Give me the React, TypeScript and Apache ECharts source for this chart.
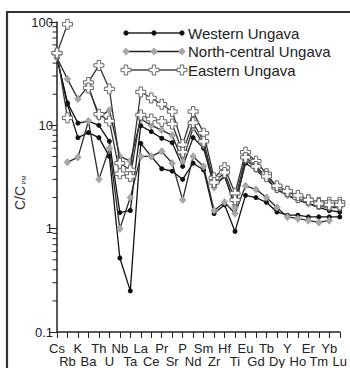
import React, { useEffect, useRef } from 'react';
import * as echarts from 'echarts';

const categories = ['Cs', 'Rb', 'K', 'Ba', 'Th', 'U', 'Nb', 'Ta', 'La', 'Ce', 'Pr', 'Sr', 'P', 'Nd', 'Sm', 'Zr', 'Hf', 'Ti', 'Eu', 'Gd', 'Tb', 'Dy', 'Y', 'Ho', 'Er', 'Tm', 'Yb', 'Lu'];

const westernA = [45, 16.5, 10.5, 11, 10, 7, 1.43, 1.5, 9.9, 8.7, 7.5, 6.8, 4.0, 7.6, 6.0, 2.6, 3.2, 1.7, 4.3, 3.7, 3.0, 2.4, 2.1, 1.9, 1.75, 1.6, 1.5, 1.45];
const westernB = [45, 16, 7.6, 8.5, 7.6, 5, 0.52, 0.25, 6.7, 5.0, 3.8, 3.6, 3.0, 4.3, 3.7, 1.4, 1.7, 0.94, 2.1, 2.0, 1.8, 1.45, 1.35, 1.35, 1.3, 1.3, 1.3, 1.3];
const northA = [45, 28, 18, 24, 12, 14, 5, 4.5, 11.5, 10, 9, 8, 4.5, 9.5, 6.5, 2.5, 3.3, 1.6, 4.6, 3.9, 3.1, 2.4, 2.1, 1.9, 1.75, 1.65, 1.6, 1.6];
const northB = [null, 4.4, 4.9, 11, 3.0, 6, 1.0, 2.0, 5.0, 5.0, 5.6, 4.3, 1.9, 5.0, 4.0, 1.5, 1.8, 1.4, 2.6, 2.4, 2.0, 1.6, 1.3, 1.25, 1.2, 1.15, 1.2, null];
const eastA = [50, 95, null, 26, 38, 22.5, 4.3, 3.7, 21, 18.4, 16, 13.6, 6.5, 13.6, 8.4, 3.1, 3.9, 2.2, 5.5, 4.5, 3.4, 2.5, 2.3, 2.0, 1.9, 1.8, 1.8, 1.8];
const eastB = [50, 11.8, null, 23, 12.8, 11, 3.4, 3.2, 12.6, 11.5, 10.9, 10.3, 5.5, 10.6, 7.0, 2.8, 3.5, 1.9, 4.9, 4.0, 3.2, 2.6, 2.3, 2.1, 1.9, 1.75, 1.7, 1.7];

const yTickLabels = ['0.1', '1', '10', '100'];
const minorTicks = [0.2, 0.3, 0.4, 0.5, 0.6, 0.7, 0.8, 0.9, 2, 3, 4, 5, 6, 7, 8, 9, 20, 30, 40, 50, 60, 70, 80, 90];

const legendNames = ['Western Ungava', 'North-central Ungava', 'Eastern Ungava'];

const FONT = '"Liberation Sans", Arial, Helvetica, sans-serif';
const crossSymbol = 'path://M3.3,0L6.7,0L6.7,3.3L10,3.3L10,6.7L6.7,6.7L6.7,10L3.3,10L3.3,6.7L0,6.7L0,3.3L3.3,3.3Z';

function crossPts(cx: number, cy: number, s: number, a: number) {
  return [
    [cx - a, cy - s], [cx + a, cy - s], [cx + a, cy - a], [cx + s, cy - a], [cx + s, cy + a], [cx + a, cy + a],
    [cx + a, cy + s], [cx - a, cy + s], [cx - a, cy + a], [cx - s, cy + a], [cx - s, cy - a], [cx - a, cy - a],
  ];
}

export default function App() {
  const ref = useRef<HTMLDivElement>(null);
  useEffect(() => {
    const chart = echarts.init(ref.current!, null, { renderer: 'svg' });

    const circleStyle = { color: '#111', borderWidth: 0 };
    const diamondStyle = { color: '#a8a8a8', borderColor: '#909090', borderWidth: 0.6 };
    const crossStyle = { color: '#ffffff', borderColor: '#666', borderWidth: 1 };

    const mk = (name: string, data: any[], symbol: string, size: any, itemStyle: any, lineColor: string, z: number) => ({
      name,
      type: 'line',
      data,
      symbol,
      symbolSize: size,
      showSymbol: true,
      connectNulls: false,
      lineStyle: { color: lineColor, width: 1.3 },
      itemStyle,
      z,
    });

    const legendRows = [33, 51.5, 70];
    const legendElems: any[] = [];
    legendRows.forEach((y, i) => {
      legendElems.push({ type: 'line', shape: { x1: 126, y1: y, x2: 182, y2: y }, style: { stroke: i === 2 ? '#444' : '#222', lineWidth: 1.3 } });
      [126, 154, 182].forEach((x) => {
        if (i === 0) legendElems.push({ type: 'circle', shape: { cx: x, cy: y, r: 2.6 }, style: { fill: '#111' } });
        if (i === 1) legendElems.push({ type: 'polygon', shape: { points: [[x, y - 3.6], [x + 3.2, y], [x, y + 3.6], [x - 3.2, y]] }, style: { fill: '#a8a8a8', stroke: '#909090', lineWidth: 0.6 } });
        if (i === 2) legendElems.push({ type: 'polygon', shape: { points: crossPts(x, y, 5, 1.7) }, style: { fill: '#fff', stroke: '#666', lineWidth: 1 } });
      });
      legendElems.push({ type: 'text', x: 188, y, style: { text: legendNames[i], fontSize: 15, fontFamily: FONT, fill: '#222', verticalAlign: 'middle', align: 'left' } });
    });

    const option: any = {
      animation: false,
      backgroundColor: '#ffffff',
      grid: { left: 57, top: 22, right: 8, bottom: 36, containLabel: false },
      xAxis: {
        type: 'category',
        data: categories,
        boundaryGap: false,
        axisLine: { lineStyle: { color: '#222', width: 1.5 } },
        axisTick: { show: true, length: 6, interval: 0, lineStyle: { color: '#222', width: 1 } },
        axisLabel: {
          interval: 0,
          fontSize: 13,
          fontFamily: FONT,
          color: '#222',
          margin: 10,
          lineHeight: 13,
          formatter: (v: string, i: number) => (i % 2 === 1 ? '\n' + v : v),
        },
        splitLine: { show: false },
      },
      yAxis: {
        type: 'log',
        logBase: 10,
        min: 0.1,
        max: 100,
        axisLine: { show: true, lineStyle: { color: '#222', width: 1.5 } },
        axisTick: { show: true, length: 8, lineStyle: { color: '#222', width: 1 } },
        axisLabel: {
          fontSize: 13,
          fontFamily: FONT,
          color: '#222',
          margin: 4,
          formatter: (v: number) => {
            const idx = Math.round(Math.log10(v)) + 1;
            return yTickLabels[idx] ?? String(v);
          },
        },
        splitLine: { show: false },
      },
      graphic: [
        { type: 'line', shape: { x1: 7, y1: 12, x2: 7, y2: 368 }, style: { stroke: '#333', lineWidth: 2.2 } },
        { type: 'line', shape: { x1: 6, y1: 12, x2: 350, y2: 12 }, style: { stroke: '#333', lineWidth: 2.2 } },
        {
          type: 'group',
          x: 20,
          y: 195,
          rotation: Math.PI / 2,
          children: [
            { type: 'text', x: -15, y: 0, style: { text: 'C/C', fontSize: 14, fontFamily: FONT, fill: '#333', verticalAlign: 'middle', align: 'left' } },
            { type: 'text', x: 10.5, y: 4, style: { text: 'PM', fontSize: 6, fontFamily: FONT, fill: '#333', verticalAlign: 'middle', align: 'left' } },
          ],
        },
        ...legendElems,
      ],
      series: [
        {
          type: 'custom',
          data: minorTicks.map((v) => [0, v]),
          encode: { x: 0, y: 1 },
          clip: false,
          silent: true,
          z: 1,
          renderItem: (params: any, api: any) => {
            const p = api.coord([0, api.value(1)]);
            return { type: 'line', shape: { x1: p[0] - 4.5, y1: p[1], x2: p[0], y2: p[1] }, style: { stroke: '#222', lineWidth: 1 } };
          },
        },
        mk('Western Ungava A', westernA, 'circle', 5, circleStyle, '#111', 3),
        mk('Western Ungava B', westernB, 'circle', 5, circleStyle, '#111', 3),
        mk('North-central Ungava A', northA, 'diamond', [6.5, 7.5], diamondStyle, '#2a2a2a', 4),
        mk('North-central Ungava B', northB, 'diamond', [6.5, 7.5], diamondStyle, '#2a2a2a', 4),
        mk('Eastern Ungava A', eastA, crossSymbol, 10, crossStyle, '#333', 5),
        mk('Eastern Ungava B', eastB, crossSymbol, 10, crossStyle, '#333', 5),
      ],
    };

    chart.setOption(option);
    return () => chart.dispose();
  }, []);

  return <div ref={ref} style={{ position: 'fixed', left: 0, top: 0, width: 350, height: 368, background: '#fff' }} />;
}
